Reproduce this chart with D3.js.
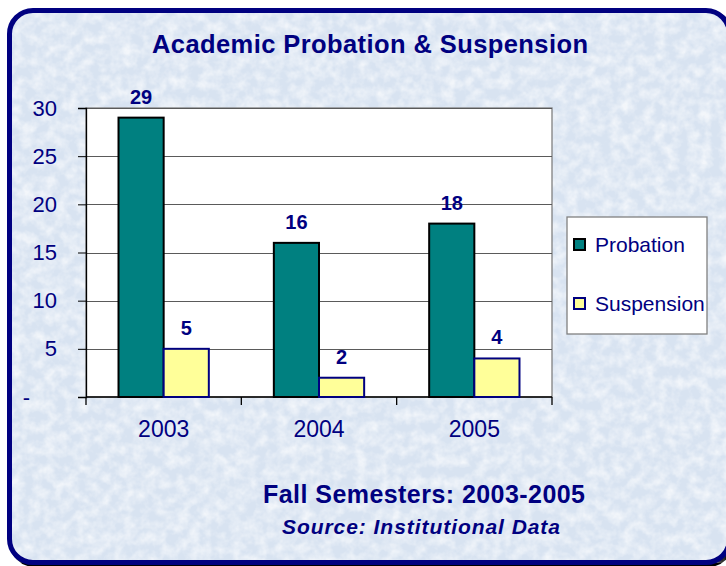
<!DOCTYPE html>
<html>
<head>
<meta charset="utf-8">
<script src="https://cdn.jsdelivr.net/npm/d3@7"></script>
<style>
html,body{margin:0;padding:0;background:#fff;}
svg{display:block;font-family:Arial,"Liberation Sans",sans-serif;}
</style>
</head>
<body>
<svg id="chart" width="726" height="566"></svg>
<script>
// ---- data ----
const categories = ["2003", "2004", "2005"];
const seriesNames = ["Probation", "Suspension"];
const probation = [29, 16, 18];
const suspension = [5, 2, 4];
const yTicks = [0, 5, 10, 15, 20, 25, 30];
const titleText = "Academic Probation & Suspension";
const subtitleText = "Fall Semesters: 2003-2005";
const sourceText = "Source: Institutional Data";

const seriesValues = [probation, suspension];
const fills = ["#008080", "#FFFF99"];
const strokes = ["#000000", "#000080"];
const navy = "#000080";

const svg = d3.select("#chart");
const defs = svg.append("defs");

// texture filter
const f = defs.append("filter").attr("id", "tex").attr("x", 0).attr("y", 0).attr("width", "100%").attr("height", "100%");
f.append("feTurbulence").attr("type", "fractalNoise").attr("baseFrequency", "0.09").attr("numOctaves", 3).attr("seed", 11).attr("result", "n");
f.append("feColorMatrix").attr("in", "n").attr("type", "matrix")
  .attr("values", "0 0 0 0 1  0 0 0 0 1  0 0 0 0 1  1.8 0 0 0 -0.6");

// frame shadow + frame
const fr = {x: 9.5, y: 10.5, w: 720, h: 552, r: 23.5};
svg.append("rect").attr("x", fr.x + 2).attr("y", fr.y + 2).attr("width", fr.w).attr("height", fr.h)
  .attr("rx", fr.r).attr("fill", "none").attr("stroke", "#000").attr("stroke-width", 5);
svg.append("rect").attr("x", fr.x).attr("y", fr.y).attr("width", fr.w).attr("height", fr.h)
  .attr("rx", fr.r).attr("fill", "#d8e3f1");
svg.append("rect").attr("x", fr.x).attr("y", fr.y).attr("width", fr.w).attr("height", fr.h)
  .attr("rx", fr.r).attr("fill", "#fff").attr("filter", "url(#tex)").attr("opacity", 0.7);
svg.append("rect").attr("x", fr.x).attr("y", fr.y).attr("width", fr.w).attr("height", fr.h)
  .attr("rx", fr.r).attr("fill", "none").attr("stroke", navy).attr("stroke-width", 5);

// scales
const plot = {x0: 86, x1: 552, y0: 108, y1: 397};
const x = d3.scaleBand().domain(categories).range([plot.x0, plot.x1]).padding(0);
const xs = d3.scaleBand().domain(seriesNames).range([0, x.bandwidth()]).paddingInner(0).paddingOuter(0.72);
const y = d3.scaleLinear().domain([0, 30]).range([plot.y1, plot.y0]);

// plot area
svg.append("rect").attr("x", plot.x0).attr("y", plot.y0).attr("width", plot.x1 - plot.x0).attr("height", plot.y1 - plot.y0)
  .attr("fill", "#fff").attr("stroke", "#808080").attr("stroke-width", 1.3);

// gridlines
svg.append("g").selectAll("line").data(yTicks.filter(d => d > 0)).join("line")
  .attr("x1", plot.x0).attr("x2", plot.x1)
  .attr("y1", d => Math.round(y(d)) + 0.5).attr("y2", d => Math.round(y(d)) + 0.5)
  .attr("stroke", "#5a5a5a").attr("stroke-width", 1);

// y axis
const yAxis = d3.axisLeft(y).tickValues(yTicks).tickSize(8).tickPadding(21)
  .tickFormat(d => d === 0 ? "-" : d);
const yg = svg.append("g").attr("transform", `translate(${plot.x0},0)`).call(yAxis);
yg.select(".domain").attr("stroke", "#000").attr("stroke-width", 1.3);
yg.selectAll(".tick line").attr("stroke", "#000");
yg.selectAll(".tick text").attr("fill", navy).attr("font-size", 22).attr("font-family", "Arial, 'Liberation Sans', sans-serif")
  .attr("x", d => d === 0 ? -56 : -29);

// x axis
const xAxis = d3.axisBottom(x).tickSize(0).tickPadding(24);
const xg = svg.append("g").attr("transform", `translate(0,${plot.y1})`).call(xAxis);
xg.select(".domain").remove();
xg.append("line").attr("x1", plot.x0).attr("x2", plot.x1).attr("y1", 0).attr("y2", 0).attr("stroke", "#000").attr("stroke-width", 1.3);
xg.selectAll(".tick text").attr("fill", navy).attr("font-size", 23).attr("font-family", "Arial, 'Liberation Sans', sans-serif");
// category boundary ticks
const bounds = categories.map(c => x(c)).concat([plot.x1]);
xg.selectAll(".btick").data(bounds).join("line").attr("class", "btick")
  .attr("x1", d => d).attr("x2", d => d).attr("y1", 0).attr("y2", 8).attr("stroke", "#000").attr("stroke-width", 1.3);

// bars
const groups = svg.append("g").selectAll("g").data(seriesNames).join("g");
groups.each(function(s, si) {
  const g = d3.select(this);
  g.selectAll("rect").data(categories).join("rect")
    .attr("x", (c) => x(c) + xs(s))
    .attr("y", (c, i) => y(seriesValues[si][i]))
    .attr("width", xs.bandwidth())
    .attr("height", (c, i) => y(0) - y(seriesValues[si][i]))
    .attr("fill", fills[si]).attr("stroke", strokes[si]).attr("stroke-width", 2);
  g.selectAll("text").data(categories).join("text")
    .attr("x", (c) => x(c) + xs(s) + xs.bandwidth() / 2)
    .attr("y", (c, i) => y(seriesValues[si][i]) - 14)
    .attr("text-anchor", "middle").attr("fill", navy).attr("font-weight", "bold").attr("font-size", 20)
    .text((c, i) => seriesValues[si][i]);
});

// title
svg.append("text").attr("x", 370).attr("y", 53).attr("text-anchor", "middle")
  .attr("fill", navy).attr("font-weight", "bold").attr("font-size", 25.5)
  .attr("textLength", 436).attr("lengthAdjust", "spacing").text(titleText);

// legend
const lg = svg.append("g");
lg.append("rect").attr("x", 567).attr("y", 217).attr("width", 140).attr("height", 117)
  .attr("fill", "#fff").attr("stroke", "#808080").attr("stroke-width", 1.3);
const ly = [245, 304];
seriesNames.forEach((s, i) => {
  lg.append("rect").attr("x", 574).attr("y", ly[i] - 6).attr("width", 11).attr("height", 11)
    .attr("fill", fills[i]).attr("stroke", strokes[i]).attr("stroke-width", 2);
  lg.append("text").attr("x", 595).attr("y", ly[i] + 7).attr("fill", navy).attr("font-size", 21).text(s);
});

// bottom texts
svg.append("text").attr("x", 424).attr("y", 503).attr("text-anchor", "middle")
  .attr("fill", navy).attr("font-weight", "bold").attr("font-size", 25)
  .attr("textLength", 322).attr("lengthAdjust", "spacing").text(subtitleText);
svg.append("text").attr("x", 421).attr("y", 534).attr("text-anchor", "middle")
  .attr("fill", navy).attr("font-weight", "bold").attr("font-style", "italic").attr("font-size", 21)
  .attr("textLength", 278).attr("lengthAdjust", "spacing").text(sourceText);
</script>
</body>
</html>
